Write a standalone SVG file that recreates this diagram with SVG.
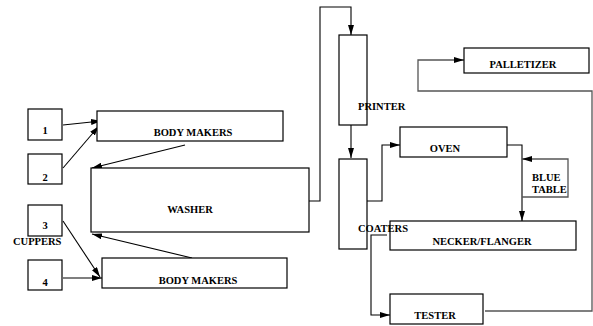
<svg xmlns="http://www.w3.org/2000/svg" width="593" height="326" viewBox="0 0 593 326">
<style>
.b{fill:#fff;stroke:#000;stroke-width:1.2}
.t{font-family:"Liberation Serif",serif;font-weight:bold;font-size:10.5px;fill:#000}
.c{fill:none;stroke:#000;stroke-width:1.1}
.g{fill:none;stroke:#555;stroke-width:1.3}
</style>
<defs>
<marker id="a" viewBox="0 0 10 6" refX="10" refY="3" markerWidth="10" markerHeight="6" markerUnits="userSpaceOnUse" orient="auto">
<path d="M0,0 L10,3 L0,6 z" fill="#000"/>
</marker>
</defs>
<g id="connectors">
<line class="c" x1="63" y1="125" x2="101" y2="121" marker-end="url(#a)"/>
<line class="c" x1="63" y1="168" x2="99" y2="126" marker-end="url(#a)"/>
<line class="c" x1="185" y1="145" x2="92" y2="168" marker-end="url(#a)"/>
<line class="c" x1="192" y1="258" x2="92" y2="234" marker-end="url(#a)"/>
<line class="c" x1="63" y1="221" x2="100" y2="277" marker-end="url(#a)"/>
<line class="c" x1="63" y1="278" x2="102" y2="278" marker-end="url(#a)"/>
<polyline class="c" points="309,201 320,201 320,7 351,7 351,35" marker-end="url(#a)"/>
<line class="c" x1="351" y1="125" x2="351" y2="158" marker-end="url(#a)"/>
<polyline class="c" points="367,201 382,201 382,145 400,145" marker-end="url(#a)"/>
<polyline class="c" points="507,145 522,145 522,221" marker-end="url(#a)"/>
<polyline class="g" points="522,197 568,197 568,159 522,159" marker-end="url(#a)"/>
<polyline class="c" points="387,235 371,235 371,315 390,315" marker-end="url(#a)"/>
<polyline class="g" points="485,311 592,311 592,91 418,91 418,60 464,60" marker-end="url(#a)"/>
</g>
<g id="n1"><rect class="b" x="28" y="109" width="34" height="31"/><text class="t" x="45" y="134" text-anchor="middle">1</text></g>
<g id="n2"><rect class="b" x="28" y="154" width="34" height="30"/><text class="t" x="45" y="181" text-anchor="middle">2</text></g>
<g id="n3"><rect class="b" x="28" y="205" width="34" height="31"/><text class="t" x="45" y="229" text-anchor="middle">3</text></g>
<g id="cuppers"><text class="t" x="13" y="245">CUPPERS</text></g>
<g id="n4"><rect class="b" x="28" y="260" width="34" height="30"/><text class="t" x="45" y="286" text-anchor="middle">4</text></g>
<g id="bodymakers1"><rect class="b" x="97" y="111" width="186" height="30"/><text class="t" x="193" y="136" text-anchor="middle">BODY MAKERS</text></g>
<g id="washer"><rect class="b" x="91" y="168" width="218" height="64"/><text class="t" x="190" y="213" text-anchor="middle">WASHER</text></g>
<g id="bodymakers2"><rect class="b" x="102" y="258" width="185" height="30"/><text class="t" x="198" y="284" text-anchor="middle">BODY MAKERS</text></g>
<g id="printer"><rect class="b" x="339" y="35" width="28" height="90"/><text class="t" x="358" y="110">PRINTER</text></g>
<g id="oven"><rect class="b" x="400" y="127" width="107" height="30"/><text class="t" x="445" y="152" text-anchor="middle">OVEN</text></g>
<g id="bluetable"><text class="t" x="532" y="181">BLUE</text><text class="t" x="532" y="193">TABLE</text></g>
<g id="necker"><rect class="b" x="390" y="221" width="186" height="29"/><text class="t" x="482" y="245" text-anchor="middle">NECKER/FLANGER</text></g>
<g id="coaters"><rect class="b" x="339" y="159" width="28" height="90"/><text class="t" x="358" y="232">COATERS</text></g>
<g id="tester"><rect class="b" x="390" y="294" width="93" height="30"/><text class="t" x="435" y="319" text-anchor="middle">TESTER</text></g>
<g id="palletizer"><rect class="b" x="464" y="48" width="125" height="25"/><text class="t" x="523" y="68" text-anchor="middle">PALLETIZER</text></g>
</svg>
